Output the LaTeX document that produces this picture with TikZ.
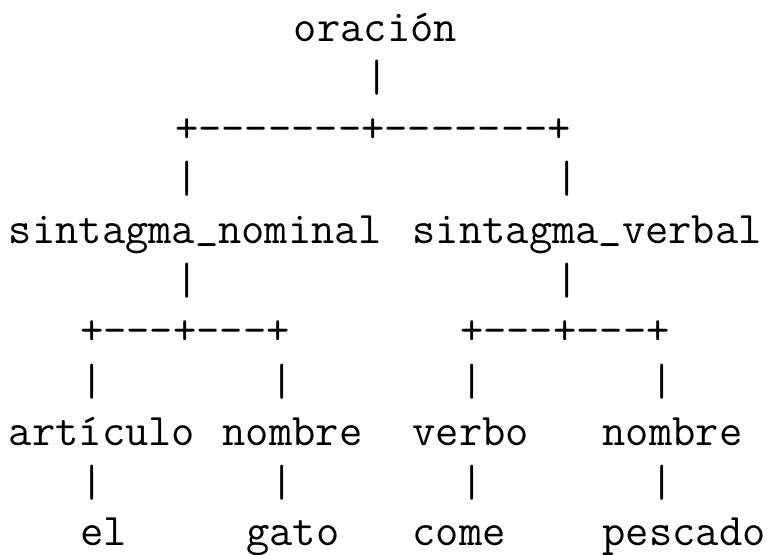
\documentclass[tikz,border=0pt]{standalone}
\tikzset{
  ascii/.style={anchor=base west, inner sep=0pt, outer sep=0pt,
    font=\fontsize{33.9}{40}\selectfont\ttfamily},
}
\newcommand{\uscore}{\raisebox{0.12em}{\_}}
\begin{document}
\begin{tikzpicture}[x=0.75pt,y=0.75pt,yscale=-1,xscale=1]
        \useasboundingbox (0,0) rectangle (767,554);
        % root
        \node [ascii] (oracion) at (293.9,41) {oración};
        \node [ascii] (barRoot) at (365.15,91.6) {|};
        \node [ascii] (forkRoot) at (175.15,142.2) {+-{}-{}-{}-{}-{}-{}-+-{}-{}-{}-{}-{}-{}-+};
        \node [ascii] (barSNup) at (175.15,192.8) {|};
        \node [ascii] (barSVup) at (555.15,192.8) {|};
        % sintagmas
        \node [ascii] (sn) at (8.9,243.4) {sintagma\uscore nominal};
        \node [ascii] (sv) at (412.65,243.4) {sintagma\uscore verbal};
        \node [ascii] (barSN) at (175.15,294) {|};
        \node [ascii] (barSV) at (555.15,294) {|};
        \node [ascii] (forkSN) at (80.15,344.6) {+-{}-{}-+-{}-{}-+};
        \node [ascii] (forkSV) at (460.15,344.6) {+-{}-{}-+-{}-{}-+};
        \node [ascii] (barArtUp) at (80.15,395.2) {|};
        \node [ascii] (barNomUp) at (270.15,395.2) {|};
        \node [ascii] (barVerbUp) at (460.15,395.2) {|};
        \node [ascii] (barNom2Up) at (650.15,395.2) {|};
        % categorias
        \node [ascii] (articulo) at (8.9,445.8) {artículo};
        \node [ascii] (nombre) at (222.65,445.8) {nombre};
        \node [ascii] (verbo) at (412.65,445.8) {verbo};
        \node [ascii] (nombreB) at (602.65,445.8) {nombre};
        \node [ascii] (barArt) at (80.15,496.4) {|};
        \node [ascii] (barNom) at (270.15,496.4) {|};
        \node [ascii] (barVerb) at (460.15,496.4) {|};
        \node [ascii] (barNomB) at (650.15,496.4) {|};
        % palabras
        \node [ascii] (el) at (80.15,545) {el};
        \node [ascii] (gato) at (246.4,545) {gato};
        \node [ascii] (come) at (412.65,545) {come};
        \node [ascii] (pescado) at (602.65,545) {pescado};
\end{tikzpicture}
\end{document}
